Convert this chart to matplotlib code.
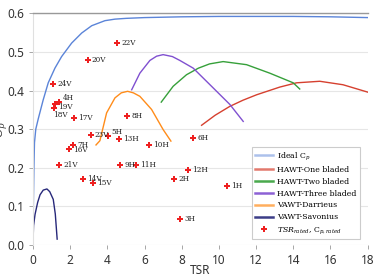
import matplotlib
matplotlib.use("Agg")
import matplotlib.pyplot as plt
from matplotlib.lines import Line2D

# ---- data ----
ideal_tsr = [0, 0.02, 0.05, 0.08, 0.15, 0.29, 0.55, 0.82, 1.18, 1.54, 2.08, 2.62, 3.16, 3.87, 4.41, 5.0, 6.0, 8.0, 10.0, 12.0, 14.0, 16.0, 18.0]
ideal_cp = [0, 0.10, 0.20, 0.265, 0.30, 0.328, 0.376, 0.42, 0.458, 0.488, 0.523, 0.549, 0.568, 0.581, 0.585, 0.587, 0.589, 0.591, 0.592, 0.592, 0.592, 0.591, 0.589]

one_tsr = [9.07, 9.8, 10.59, 11.3, 12.03, 13.28, 14.18, 15.43, 16.68, 18.0]
one_cp = [0.310, 0.336, 0.359, 0.375, 0.389, 0.409, 0.420, 0.424, 0.415, 0.396]

two_tsr = [6.9, 7.54, 8.26, 8.9, 9.5, 10.23, 11.49, 12.74, 14.0, 14.35]
two_cp = [0.370, 0.411, 0.441, 0.458, 0.469, 0.475, 0.467, 0.445, 0.420, 0.404]

three_tsr = [5.31, 5.75, 6.29, 6.65, 7.0, 7.5, 7.9, 8.62, 9.69, 10.59, 11.31]
three_cp = [0.402, 0.445, 0.478, 0.489, 0.493, 0.488, 0.478, 0.458, 0.407, 0.364, 0.320]

darr_tsr = [3.39, 3.6, 3.96, 4.41, 4.75, 5.09, 5.4, 5.75, 6.38, 7.0, 7.42]
darr_cp = [0.259, 0.27, 0.342, 0.381, 0.394, 0.398, 0.394, 0.385, 0.351, 0.299, 0.269]

sav_tsr = [0, 0.03, 0.11, 0.25, 0.38, 0.55, 0.75, 0.9, 1.09, 1.2, 1.3]
sav_cp = [0.006, 0.05, 0.079, 0.11, 0.13, 0.142, 0.145, 0.138, 0.118, 0.08, 0.015]

pt_labels = ["22V", "20V", "24V", "4H", "19V", "18V", "17V", "8H", "23V", "5H", "13H",
             "7H", "16V", "10H", "21V", "9H", "11H", "14V", "15V", "2H", "12H", "3H", "6H", "1H"]
pt_tsr = [4.53, 2.94, 1.09, 1.40, 1.17, 1.13, 2.20, 5.07, 3.10, 4.05, 4.61,
          2.15, 1.92, 6.22, 1.42, 4.68, 5.55, 2.69, 3.23, 7.58, 8.32, 7.90, 8.62, 10.45]
pt_cp = [0.522, 0.479, 0.416, 0.371, 0.364, 0.354, 0.330, 0.335, 0.286, 0.282, 0.275,
         0.259, 0.249, 0.258, 0.206, 0.206, 0.206, 0.171, 0.160, 0.172, 0.195, 0.068, 0.276, 0.152]

# label offsets (points) for special cases
label_offsets = {"4H": (3, 3), "19V": (2.5, -1.5), "18V": (-1, -5), "5H": (2.5, 3),
                 "16V": (3, -1)}

plt.rcParams['mathtext.fontset'] = 'dejavuserif'
fig = plt.figure(figsize=(3.85, 2.78), dpi=100)
ax = fig.add_axes([0.0857, 0.119, 0.869, 0.833])

c_blue = "#5b84d8"
c_red = "#d6402f"
c_green = "#36a03a"
c_purple = "#8050d0"
c_orange = "#ff8c1a"
c_navy = "#27287a"

lw = 1.0
ax.plot(ideal_tsr, ideal_cp, color=c_blue, lw=lw)
ax.plot(one_tsr, one_cp, color=c_red, lw=lw)
ax.plot(two_tsr, two_cp, color=c_green, lw=lw)
ax.plot(three_tsr, three_cp, color=c_purple, lw=lw)
ax.plot(darr_tsr, darr_cp, color=c_orange, lw=lw)
ax.plot(sav_tsr, sav_cp, color=c_navy, lw=lw)
ax.plot(pt_tsr, pt_cp, linestyle="none", marker="P", markersize=4, color="#ee2020",
        markeredgewidth=0)

for lab, x, y in zip(pt_labels, pt_tsr, pt_cp):
    dx, dy = label_offsets.get(lab, (3, 0))
    ax.annotate(lab, (x, y), xytext=(dx, dy), textcoords="offset points",
                fontsize=5.2, family="DejaVu Serif", va="center", ha="left", color="#222222")

ax.set_xlim(0, 18)
ax.set_ylim(0, 0.6)
ax.set_xticks([0, 2, 4, 6, 8, 10, 12, 14, 16, 18])
ax.set_yticks([0.0, 0.1, 0.2, 0.3, 0.4, 0.5, 0.6])
ax.set_yticklabels(["0.0", "0.1", "0.2", "0.3", "0.4", "0.5", "0.6"])
ax.tick_params(axis="both", labelsize=8.5, colors="#999999", labelcolor="#333333",
               length=3, width=0.6)
for lbl in ax.get_xticklabels() + ax.get_yticklabels():
    lbl.set_family("Noto Sans")
ax.yaxis.grid(True, color="#e6e6e6", lw=0.8)
ax.set_axisbelow(True)
ax.spines["right"].set_visible(False)
ax.spines["bottom"].set_visible(False)
ax.spines["left"].set_color("#e0e0e0")
ax.spines["top"].set_color("#999999")
ax.spines["top"].set_linewidth(1.0)

ax.set_xlabel("TSR", fontsize=8.5, family="Noto Sans", color="#333333", labelpad=-2)
ax.set_ylabel("$C_p$", fontsize=9, color="#333333")
ax.yaxis.set_label_coords(-0.069, 0.5)

handles = [
    Line2D([], [], color=c_blue, lw=1.8, alpha=0.5),
    Line2D([], [], color=c_red, lw=1.8, alpha=0.7),
    Line2D([], [], color=c_green, lw=1.8, alpha=0.9),
    Line2D([], [], color=c_purple, lw=1.8, alpha=0.9),
    Line2D([], [], color=c_orange, lw=1.8, alpha=0.7),
    Line2D([], [], color=c_navy, lw=1.8, alpha=0.9),
    Line2D([], [], linestyle="none", marker="P", markersize=4, color="#ee2020", markeredgewidth=0),
]
labels = ["Ideal C$_p$", "HAWT-One bladed", "HAWT-Two bladed", "HAWT-Three bladed",
          "VAWT-Darrieus", "VAWT-Savonius", "$TSR_{rated}$, C$_{p,rated}$"]
leg = ax.legend(handles, labels, loc="lower right", bbox_to_anchor=(0.988, 0.008),
                prop={"family": "DejaVu Serif", "size": 5.6}, fancybox=False,
                edgecolor="#cccccc", framealpha=1.0, handlelength=2.3,
                borderpad=0.4, labelspacing=0.5, handletextpad=0.55)
leg.get_frame().set_linewidth(0.8)

fig.savefig("out.png", dpi=100)
